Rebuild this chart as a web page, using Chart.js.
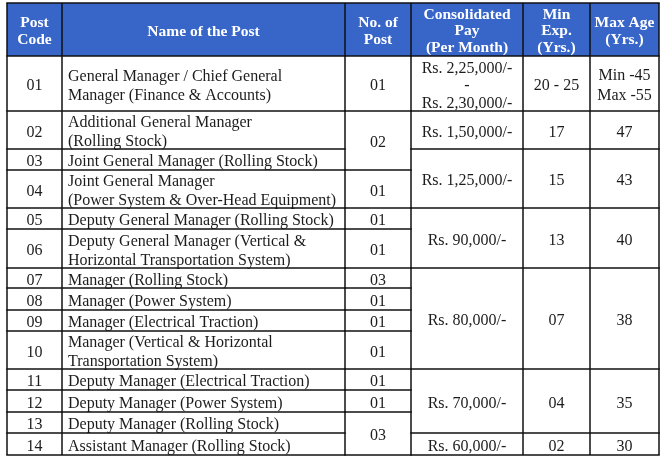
<!DOCTYPE html>
<html><head><meta charset="utf-8">
<script src="https://cdn.jsdelivr.net/npm/chart.js@4.4.0/dist/chart.umd.min.js"></script>
<style>html,body{margin:0;padding:0;background:#fff}canvas{display:block}</style>
</head><body>
<canvas id="c" width="667" height="460"></canvas>
<script>
// ---- data ----
const headers = ["Post\nCode", "Name of the Post", "No. of\nPost", "Consolidated\nPay\n(Per Month)", "Min\nExp.\n(Yrs.)", "Max Age\n(Yrs.)"];
const postCodes = ["01","02","03","04","05","06","07","08","09","10","11","12","13","14"];
const postNames = [
  "General Manager / Chief General\nManager (Finance & Accounts)",
  "Additional General Manager\n(Rolling Stock)",
  "Joint General Manager (Rolling Stock)",
  "Joint General Manager\n(Power System & Over-Head Equipment)",
  "Deputy General Manager (Rolling Stock)",
  "Deputy General Manager (Vertical &\nHorizontal Transportation System)",
  "Manager (Rolling Stock)",
  "Manager (Power System)",
  "Manager (Electrical Traction)",
  "Manager (Vertical & Horizontal\nTransportation System)",
  "Deputy Manager (Electrical Traction)",
  "Deputy Manager (Power System)",
  "Deputy Manager (Rolling Stock)",
  "Assistant Manager (Rolling Stock)"
];
const noOfPost = ["01","02","01","01","01","03","01","01","01","01","01","03"];
const noOfPostSpan = [1,2,1,1,1,1,1,1,1,1,1,2];
const pay = ["Rs. 2,25,000/-\n-\nRs. 2,30,000/-","Rs. 1,50,000/-","Rs. 1,25,000/-","Rs. 90,000/-","Rs. 80,000/-","Rs. 70,000/-","Rs. 60,000/-"];
const minExp = ["20 - 25","17","15","13","07","04","02"];
const maxAge = ["Min -45\nMax -55","47","43","40","38","35","30"];
const paySpan = [1,1,2,2,4,3,1];

// ---- layout (table geometry in scale units) ----
const colEdges = [7, 62, 345, 411, 523, 590, 659];
const headerTop = 3;
const rowEdges = [56,111,149,170,208,229,268,288,310,331,369,390,412,433,455];

const HEADER_BG = '#3765c8';
const LINE = '#111';
const TEXT = '#1c1c1c';
const FONT = '"Liberation Serif", "Times New Roman", serif';

const tablePlugin = {
  id: 'table',
  afterDatasetsDraw(chart) {
    const ctx = chart.ctx, xs = chart.scales.x, ys = chart.scales.y;
    const X = v => xs.getPixelForValue(v), Y = v => ys.getPixelForValue(v);
    ctx.save();
    // header background
    ctx.fillStyle = HEADER_BG;
    ctx.fillRect(X(colEdges[0]), Y(headerTop), X(colEdges[6]) - X(colEdges[0]), Y(rowEdges[0]) - Y(headerTop));

    function drawText(str, cx, cy, align, lh, font, color) {
      const lines = str.split('\n');
      ctx.font = font; ctx.fillStyle = color; ctx.textAlign = align; ctx.textBaseline = 'middle';
      const start = cy - (lines.length - 1) * lh / 2;
      lines.forEach((l, i) => ctx.fillText(l, cx, start + i * lh));
    }
    // header text
    headers.forEach((h, i) => {
      const cx = (X(colEdges[i]) + X(colEdges[i + 1])) / 2;
      const n = h.split('\n').length;
      const cy = (Y(headerTop) + Y(rowEdges[0])) / 2 + (n === 3 ? 1.5 : 2);
      drawText(h, cx, cy, 'center', n === 3 ? 16.5 : 17.5, 'bold 15.5px ' + FONT, '#ffffff');
    });
    const bodyFont = '16px ' + FONT;
    const off = 2.5;
    // post code + name
    postCodes.forEach((code, r) => {
      const cy = (Y(rowEdges[r]) + Y(rowEdges[r + 1])) / 2 + off;
      drawText(code, (X(colEdges[0]) + X(colEdges[1])) / 2, cy, 'center', 19, bodyFont, TEXT);
      drawText(postNames[r], X(colEdges[1]) + 6, cy, 'left', 19, bodyFont, TEXT);
    });
    // spanned columns
    function spanned(values, spans, cols) {
      let r = 0;
      values.forEach((v, k) => {
        const top = Y(rowEdges[r]), bot = Y(rowEdges[r + spans[k]]);
        const cy = (top + bot) / 2 + off;
        const arr = Array.isArray(v) ? v : [v];
        cols.forEach((c, j) => {
          const txt = arr[j];
          const n = txt.split('\n').length;
          drawText(txt, (X(colEdges[c]) + X(colEdges[c + 1])) / 2, cy, 'center', n === 3 ? 17.5 : 20, bodyFont, TEXT);
        });
        r += spans[k];
      });
    }
    spanned(noOfPost, noOfPostSpan, [2]);
    spanned(pay.map((p, i) => [p, minExp[i], maxAge[i]]), paySpan, [3, 4, 5]);

    // grid lines
    ctx.strokeStyle = LINE; ctx.lineWidth = 1.5;
    const hline = (x0, x1, y) => { ctx.beginPath(); ctx.moveTo(X(x0) - 0.75, Y(y)); ctx.lineTo(X(x1) + 0.75, Y(y)); ctx.stroke(); };
    const vline = (x, y0, y1) => { ctx.beginPath(); ctx.moveTo(X(x), Y(y0)); ctx.lineTo(X(x), Y(y1)); ctx.stroke(); };
    colEdges.forEach(x => vline(x, headerTop, rowEdges[rowEdges.length - 1]));
    hline(colEdges[0], colEdges[6], headerTop);
    rowEdges.forEach(y => hline(colEdges[0], colEdges[2], y));
    let r = 0;
    hline(colEdges[2], colEdges[3], rowEdges[0]);
    noOfPostSpan.forEach(s => { r += s; hline(colEdges[2], colEdges[3], rowEdges[r]); });
    r = 0;
    hline(colEdges[3], colEdges[6], rowEdges[0]);
    paySpan.forEach(s => { r += s; hline(colEdges[3], colEdges[6], rowEdges[r]); });
    ctx.restore();
  }
};

new Chart(document.getElementById('c'), {
  type: 'scatter',
  data: { datasets: [{ data: [] }] },
  options: {
    responsive: false, animation: false, devicePixelRatio: 1, events: [],
    layout: { padding: 0 },
    plugins: { legend: { display: false }, tooltip: { enabled: false } },
    scales: {
      x: { type: 'linear', min: 0, max: 667, display: false },
      y: { type: 'linear', min: 0, max: 460, reverse: true, display: false }
    }
  },
  plugins: [tablePlugin]
});
</script>
</body></html>
